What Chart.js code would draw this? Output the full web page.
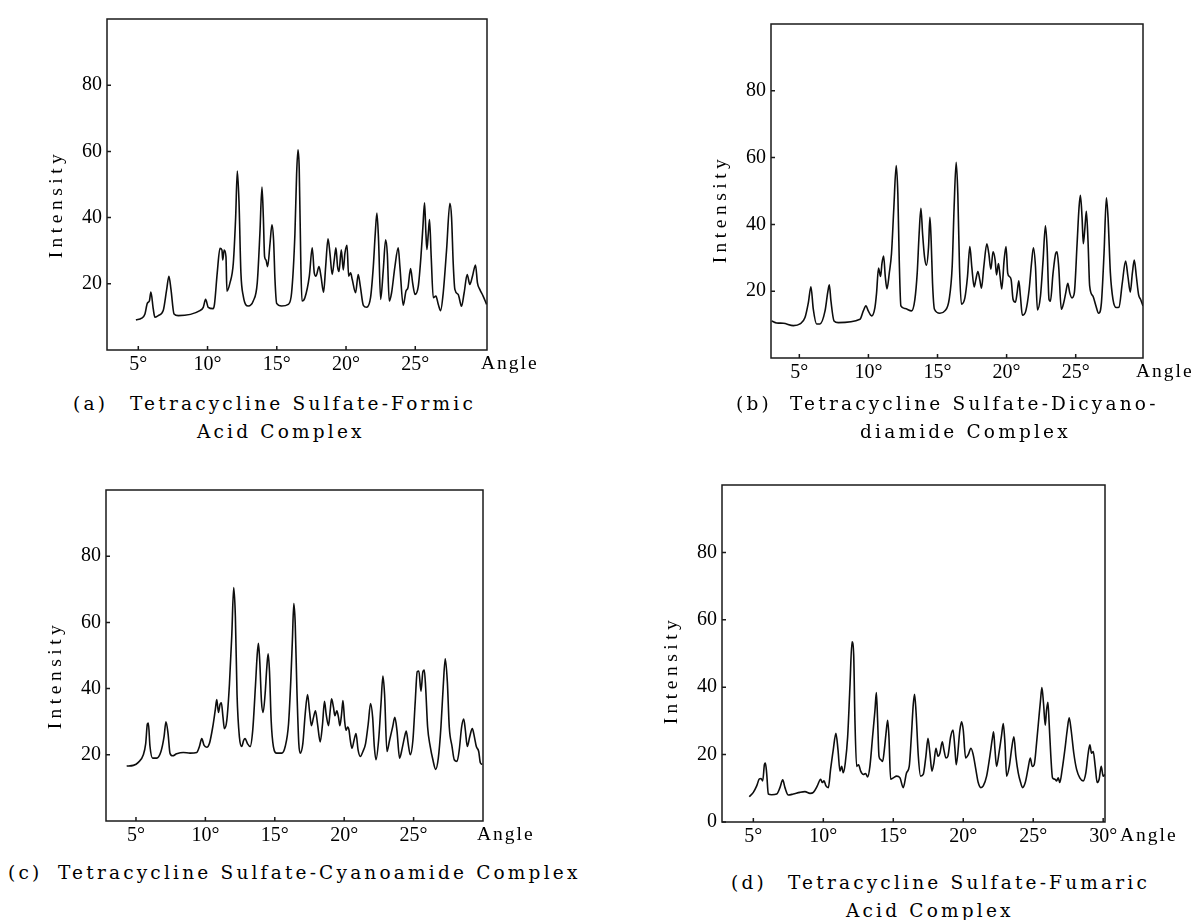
<!DOCTYPE html>
<html>
<head>
<meta charset="utf-8">
<script src="https://cdn.jsdelivr.net/npm/chart.js@4.4.1/dist/chart.umd.min.js"></script>
<style>
    html, body { margin: 0; padding: 0; background: #fff; width: 1195px; height: 920px; overflow: hidden; }
    canvas { position: absolute; }
    .cap { position: absolute; font-family: 'DejaVu Serif', serif; font-size: 18.5px; letter-spacing: 3.2px;
           line-height: 20px; color: #000; white-space: nowrap; }
</style>
</head>
<body>
<canvas id="chartA"></canvas>
<canvas id="chartB"></canvas>
<canvas id="chartC"></canvas>
<canvas id="chartD"></canvas>

<div class="cap" style="left:73px;top:394px">(a)</div>
<div class="cap" style="left:130px;top:394px">Tetracycline Sulfate-Formic</div>
<div class="cap" style="left:197px;top:422px">Acid Complex</div>

<div class="cap" style="left:736px;top:394px">(b)</div>
<div class="cap" style="left:790px;top:394px">Tetracycline Sulfate-Dicyano-</div>
<div class="cap" style="left:860px;top:422px">diamide Complex</div>

<div class="cap" style="left:8px;top:863px">(c)</div>
<div class="cap" style="left:58px;top:863px">Tetracycline Sulfate-Cyanoamide Complex</div>

<div class="cap" style="left:731px;top:873px">(d)</div>
<div class="cap" style="left:788px;top:873px">Tetracycline Sulfate-Fumaric</div>
<div class="cap" style="left:846px;top:901px">Acid Complex</div>

<script>
// datos (angulo 2θ en grados, intensidad)
const anglesA = [
    4.83, 5.24, 5.48, 5.65, 5.8, 5.91, 6.08, 6.2, 6.44, 6.8,
    7.05, 7.21, 7.36, 7.58, 7.89, 9.45, 9.69, 9.86, 10.05, 10.4,
    10.5, 10.7, 10.9, 11.04, 11.1, 11.2, 11.33, 11.4, 11.62, 11.86,
    12.03, 12.15, 12.27, 12.41, 12.58, 12.94, 13.3, 13.59, 13.78, 13.93,
    14.03, 14.12, 14.22, 14.34, 14.51, 14.65, 14.77, 14.87, 14.99, 15.35,
    15.83, 16.07, 16.31, 16.43, 16.53, 16.62, 16.74, 16.82, 17.03, 17.35,
    17.56, 17.71, 17.83, 18.05, 18.19, 18.38, 18.53, 18.7, 18.84, 19.0,
    19.15, 19.27, 19.39, 19.49, 19.66, 19.8, 19.92, 20.07, 20.19, 20.33,
    20.45, 20.69, 20.88, 21.03, 21.25, 21.49, 21.77, 21.97, 22.11, 22.23,
    22.35, 22.5, 22.69, 22.86, 22.98, 23.12, 23.29, 23.53, 23.77, 23.89,
    24.13, 24.33, 24.47, 24.66, 24.81, 24.98, 25.22, 25.41, 25.55, 25.67,
    25.77, 25.84, 25.94, 26.03, 26.15, 26.3, 26.49, 26.66, 26.83, 27.02,
    27.26, 27.5, 27.62, 27.74, 27.86, 28.1, 28.34, 28.53, 28.75, 28.94,
    29.13, 29.35, 29.49, 29.66, 29.9, 30.15
];
const intensityA = [
    9.1, 9.6, 10.9, 14.1, 14.8, 17.5, 12.4, 9.9, 10.4, 11.9,
    18.3, 22.3, 18.3, 10.9, 10.4, 11.9, 12.9, 15.3, 12.9, 12.5,
    13.8, 23.3, 30.7, 30.2, 27.2, 30.2, 28.2, 17.8, 20.3, 26.2,
    40.1, 54.1, 45, 23.3, 16.3, 13.3, 14.8, 20.3, 35.1, 49.2,
    40.1, 28.2, 27.2, 25.2, 32.1, 37.8, 33.1, 21.3, 14.1, 13.3,
    13.8, 17.3, 35.1, 52.9, 60.5, 54.9, 25.2, 14.8, 15.8, 22.3,
    30.9, 23.2, 22.3, 25.2, 22.3, 17.5, 25.2, 33.6, 29.2, 22.8,
    27.2, 30.9, 25.2, 23.7, 30.3, 24.2, 29.2, 31.6, 22.3, 23.3,
    21.3, 17.3, 22.8, 19.3, 13.5, 12.9, 15.8, 25.2, 35.1, 41.4,
    33.1, 15.3, 24.2, 33.3, 29.2, 14.8, 17.3, 25.2, 30.9, 25.2,
    13.5, 17.8, 18.8, 24.6, 20.3, 16.8, 19.3, 28.2, 37.1, 44.5,
    35.1, 30.4, 35.1, 39.4, 28.2, 15.8, 16.3, 13.8, 11.9, 17.3,
    30.2, 44.3, 40.1, 26.2, 18.3, 16.8, 13.2, 17.3, 22.8, 19.8,
    22.3, 25.7, 20.3, 18.3, 16.3, 13.8
];

const anglesB = [
    3.0, 3.36, 3.84, 4.57, 5.05, 5.41, 5.65, 5.84, 6.01, 6.25,
    6.49, 6.86, 7.05, 7.17, 7.29, 7.51, 7.82, 9.39, 9.63, 9.82,
    9.99, 10.23, 10.47, 10.59, 10.73, 10.88, 10.98, 11.1, 11.22, 11.34,
    11.51, 11.67, 11.84, 12.01, 12.13, 12.23, 12.35, 12.64, 13.12, 13.36,
    13.53, 13.67, 13.8, 13.92, 14.06, 14.2, 14.35, 14.45, 14.54, 14.64,
    14.78, 15.17, 15.53, 15.84, 16.06, 16.2, 16.35, 16.47, 16.59, 16.73,
    16.98, 17.17, 17.34, 17.48, 17.65, 17.77, 17.92, 18.06, 18.18, 18.35,
    18.57, 18.71, 18.86, 19.02, 19.17, 19.27, 19.41, 19.53, 19.65, 19.82,
    19.96, 20.08, 20.2, 20.33, 20.47, 20.64, 20.76, 20.88, 21.0, 21.14,
    21.39, 21.63, 21.8, 21.94, 22.09, 22.23, 22.45, 22.64, 22.81, 22.93,
    23.07, 23.17, 23.36, 23.55, 23.65, 23.77, 23.96, 24.13, 24.28, 24.43,
    24.57, 24.73, 24.9, 25.1, 25.24, 25.34, 25.46, 25.55, 25.67, 25.77,
    25.89, 26.01, 26.25, 26.45, 26.66, 26.86, 27.05, 27.22, 27.34, 27.51,
    27.7, 27.94, 28.13, 28.37, 28.61, 28.78, 28.95, 29.1, 29.24, 29.39,
    29.55, 29.7, 29.87
];
const intensityB = [
    11.1, 10.5, 10.4, 9.7, 10.2, 12.1, 16.5, 21.3, 14.6, 10.2,
    10.2, 14.1, 19.5, 21.9, 17.0, 11.1, 10.6, 11.6, 14.1, 15.6,
    14.1, 12.6, 15.1, 19.5, 26.9, 24.4, 28.3, 30.5, 24.4, 20.7,
    25.4, 31.3, 45.0, 57.6, 49.0, 29.3, 15.6, 14.8, 14.1, 17.5,
    25.4, 37.2, 44.8, 37.2, 30.3, 27.8, 33.2, 42.1, 35.2, 22.4,
    14.6, 13.4, 14.1, 17.5, 27.3, 45.0, 58.6, 49.0, 27.3, 16.1,
    18.0, 24.4, 33.4, 27.3, 21.3, 23.4, 25.9, 23.4, 20.9, 27.3,
    34.2, 31.3, 26.6, 31.8, 29.3, 24.9, 28.3, 24.4, 20.7, 29.3,
    33.4, 25.4, 24.4, 23.4, 17.5, 16.7, 19.5, 23.1, 18.5, 12.8,
    14.1, 20.5, 28.3, 33.0, 27.3, 14.4, 18.5, 29.3, 39.6, 33.2,
    17.5, 17.0, 25.4, 31.3, 31.8, 27.3, 14.6, 16.5, 19.5, 22.4,
    19.5, 18.0, 19.5, 34.2, 45.0, 48.7, 42.1, 34.2, 39.2, 43.9,
    35.2, 21.6, 18.5, 15.8, 13.4, 16.5, 31.3, 48.0, 42.1, 25.4,
    17.5, 15.1, 15.2, 22.4, 29.0, 24.4, 19.7, 25.4, 29.3, 24.4,
    19.0, 17.5, 15.6
];

const anglesC = [
    4.33, 4.81, 5.17, 5.53, 5.7, 5.82, 5.89, 6.01, 6.2, 6.49,
    6.8, 7.02, 7.16, 7.31, 7.45, 7.64, 7.93, 8.41, 8.89, 9.38,
    9.57, 9.74, 9.9, 10.1, 10.29, 10.53, 10.72, 10.82, 10.94, 11.06,
    11.15, 11.27, 11.37, 11.54, 11.73, 11.9, 12.04, 12.16, 12.28, 12.45,
    12.62, 12.76, 12.86, 13.03, 13.22, 13.41, 13.61, 13.73, 13.82, 13.92,
    14.04, 14.16, 14.3, 14.42, 14.52, 14.62, 14.74, 14.9, 15.14, 15.5,
    15.75, 15.99, 16.15, 16.27, 16.37, 16.47, 16.59, 16.73, 16.83, 17.02,
    17.19, 17.36, 17.5, 17.64, 17.79, 17.93, 18.08, 18.27, 18.44, 18.58,
    18.7, 18.87, 18.99, 19.09, 19.23, 19.33, 19.47, 19.59, 19.69, 19.81,
    19.91, 20.03, 20.13, 20.25, 20.35, 20.44, 20.56, 20.71, 20.85, 21.0,
    21.16, 21.35, 21.54, 21.73, 21.9, 22.05, 22.17, 22.29, 22.48, 22.65,
    22.79, 22.91, 23.08, 23.27, 23.49, 23.65, 23.8, 23.99, 24.18, 24.35,
    24.47, 24.61, 24.76, 24.95, 25.12, 25.26, 25.38, 25.53, 25.67, 25.77,
    25.87, 26.01, 26.2, 26.39, 26.59, 26.78, 26.97, 27.14, 27.28, 27.43,
    27.57, 27.77, 27.93, 28.13, 28.29, 28.46, 28.61, 28.73, 28.87, 29.04,
    29.23, 29.38, 29.52, 29.69, 29.81, 29.95
];
const intensityC = [
    16.6, 16.8, 17.7, 20.0, 23.4, 29.3, 29.6, 22.5, 19.0, 19.0,
    21.0, 25.4, 30.0, 26.4, 20.5, 19.7, 20.3, 20.7, 20.5, 20.7,
    22.5, 24.9, 22.9, 22.3, 23.4, 28.4, 33.8, 36.7, 32.8, 35.3,
    35.7, 31.3, 27.9, 30.3, 41.1, 55.9, 70.5, 61.8, 38.2, 25.4,
    22.5, 24.4, 24.9, 23.4, 22.5, 27.4, 41.1, 50.0, 53.7, 48.0,
    36.2, 32.8, 38.2, 46.1, 50.5, 45.1, 30.3, 22.5, 20.5, 20.5,
    22.5, 29.3, 42.1, 54.9, 65.7, 59.8, 40.1, 23.4, 20.5, 23.4,
    32.3, 38.2, 33.3, 28.8, 31.3, 33.3, 29.3, 23.9, 29.3, 36.2,
    32.3, 28.8, 33.3, 36.9, 34.3, 31.8, 33.3, 31.3, 28.8, 32.3,
    36.4, 30.3, 27.4, 28.4, 27.4, 24.4, 22.0, 24.4, 26.4, 21.5,
    19.5, 21.0, 23.4, 29.3, 35.5, 31.3, 22.5, 18.5, 24.4, 35.3,
    43.8, 38.2, 21.0, 24.4, 28.4, 31.3, 27.4, 19.0, 22.0, 25.4,
    27.2, 23.4, 20.0, 24.4, 36.2, 45.1, 45.3, 39.2, 45.1, 45.6,
    40.2, 28.4, 22.5, 18.5, 15.6, 19.0, 28.4, 41.1, 49.0, 42.1,
    28.4, 22.5, 18.5, 18.0, 21.5, 28.4, 30.8, 27.4, 22.5, 25.4,
    27.9, 25.4, 22.5, 21.0, 17.6, 17.1
];

const anglesD = [
    4.71, 5.0, 5.24, 5.43, 5.55, 5.67, 5.79, 5.86, 5.95, 6.07,
    6.31, 6.67, 6.9, 7.1, 7.26, 7.5, 7.86, 8.33, 8.69, 9.05,
    9.29, 9.57, 9.81, 9.93, 10.05, 10.19, 10.36, 10.52, 10.71, 10.9,
    11.05, 11.19, 11.31, 11.43, 11.57, 11.74, 11.9, 12.05, 12.17, 12.26,
    12.38, 12.52, 12.67, 12.86, 13.02, 13.17, 13.33, 13.52, 13.69, 13.79,
    13.88, 13.98, 14.1, 14.24, 14.36, 14.48, 14.6, 14.69, 14.81, 15.0,
    15.24, 15.48, 15.71, 15.95, 16.14, 16.29, 16.43, 16.52, 16.62, 16.79,
    16.95, 17.14, 17.33, 17.48, 17.62, 17.76, 17.9, 18.05, 18.19, 18.33,
    18.5, 18.62, 18.76, 18.9, 19.1, 19.27, 19.4, 19.5, 19.76, 19.88,
    20.0, 20.17, 20.36, 20.55, 20.71, 20.9, 21.07, 21.26, 21.43, 21.67,
    21.9, 22.1, 22.17, 22.26, 22.38, 22.57, 22.74, 22.86, 22.98, 23.1,
    23.29, 23.48, 23.62, 23.76, 23.93, 24.1, 24.24, 24.43, 24.62, 24.79,
    24.93, 25.07, 25.24, 25.43, 25.52, 25.62, 25.74, 25.86, 25.95, 26.05,
    26.14, 26.26, 26.38, 26.55, 26.67, 26.79, 26.9, 27.07, 27.26, 27.43,
    27.57, 27.71, 27.9, 28.1, 28.33, 28.57, 28.76, 28.93, 29.05, 29.17,
    29.29, 29.43, 29.57, 29.71, 29.86, 30.0, 30.12
];
const intensityD = [
    7.5, 8.8, 10.7, 12.8, 12.9, 12.2, 17.0, 17.5, 14.6, 8.3,
    8.1, 8.3, 10.2, 12.5, 10.2, 8.0, 8.3, 8.8, 9.0, 8.5,
    8.8, 10.7, 12.7, 11.7, 12.2, 10.7, 10.2, 15.6, 21.4, 26.3,
    21.4, 15.1, 16.5, 14.6, 17.5, 25.3, 39.9, 53.5, 49.6, 30.2,
    16.5, 17.0, 15.1, 14.1, 14.4, 13.4, 16.5, 25.3, 33.1, 38.4,
    30.2, 19.5, 18.5, 18.0, 21.4, 26.3, 30.2, 25.3, 12.7, 13.1,
    13.6, 13.1, 10.2, 14.6, 16.5, 25.3, 35.0, 37.9, 33.1, 19.5,
    13.6, 14.1, 19.5, 24.8, 20.4, 15.1, 17.5, 21.9, 19.5, 20.4,
    23.8, 21.4, 19.0, 19.5, 25.3, 27.3, 22.0, 17.0, 27.3, 29.7,
    27.3, 19.0, 20.0, 21.9, 20.0, 15.6, 11.7, 10.2, 10.7, 13.6,
    19.5, 25.3, 26.8, 21.9, 16.5, 20.9, 25.8, 29.2, 23.4, 13.6,
    16.5, 22.4, 25.3, 19.5, 14.6, 11.7, 10.2, 11.7, 15.6, 19.0,
    16.5, 17.0, 23.4, 32.1, 36.0, 39.9, 35.0, 28.7, 33.1, 35.5,
    29.2, 19.5, 13.1, 12.7, 12.2, 13.1, 11.7, 15.6, 21.4, 27.3,
    30.9, 27.3, 20.4, 15.6, 13.1, 12.2, 14.6, 20.4, 22.9, 20.4,
    20.9, 16.5, 11.7, 12.7, 16.5, 13.6, 14.1
];

// marcas de los ejes
const xTicksABC = [5, 10, 15, 20, 25];
const xTicksD = [5, 10, 15, 20, 25, 30];
const yTicksABC = [20, 40, 60, 80];
const yTicksD = [0, 20, 40, 60, 80];

const AXIS_W = 80;   // ancho fijo del eje y
const AXIS_H = 40;   // alto fijo del eje x
const PAD_T = 12;
const PAD_R = 95;

// marco, marcas hacia dentro y textos "Angle" / "Intensity"
const framePlugin = {
    id: 'frame',
    afterDatasetsDraw(chart, args, opts) {
        const { ctx, chartArea: a, scales: { x, y } } = chart;
        ctx.save();
        ctx.strokeStyle = '#1a1a1a';
        ctx.lineWidth = 1.5;
        ctx.strokeRect(a.left, a.top, a.right - a.left, a.bottom - a.top);
        ctx.beginPath();
        x.ticks.forEach(t => {
            const px = x.getPixelForValue(t.value);
            ctx.moveTo(px, a.bottom);
            ctx.lineTo(px, a.bottom - 4);
        });
        y.ticks.forEach(t => {
            const py = y.getPixelForValue(t.value);
            ctx.moveTo(a.left, py);
            ctx.lineTo(a.left + 4, py);
        });
        ctx.stroke();

        ctx.fillStyle = '#000';
        ctx.font = '19.5px "Liberation Serif"';
        ctx.textBaseline = 'middle';
        ctx.letterSpacing = '2px';
        ctx.textAlign = 'left';
        ctx.fillText('Angle', a.right + opts.angleDx, a.bottom + 14);

        ctx.letterSpacing = '4.5px';
        ctx.textAlign = 'center';
        ctx.translate(a.left - 50, a.top + 185);
        ctx.rotate(-Math.PI / 2);
        ctx.fillText('Intensity', 0, 0);
        ctx.restore();
    }
};

function makeChart(id, box, angles, intensity, xMin, xMax, xTicks, yTicks, angleDx) {
    const canvas = document.getElementById(id);
    canvas.width = AXIS_W + (box.r - box.l) + PAD_R;
    canvas.height = PAD_T + (box.b - box.t) + AXIS_H;
    canvas.style.left = (box.l - AXIS_W) + 'px';
    canvas.style.top = (box.t - PAD_T) + 'px';

    const points = angles.map((v, i) => ({ x: v, y: intensity[i] }));
    const tickFont = { family: '"Liberation Serif"', size: 20 };

    return new Chart(canvas, {
        type: 'line',
        data: {
            datasets: [{
                data: points,
                borderColor: '#0d0d0d',
                borderWidth: 1.6,
                pointRadius: 0,
                cubicInterpolationMode: 'monotone',
                fill: false
            }]
        },
        options: {
            responsive: false,
            animation: false,
            events: [],
            layout: { padding: { left: 0, top: PAD_T, right: PAD_R, bottom: 0 } },
            plugins: {
                legend: { display: false },
                tooltip: { enabled: false },
                frame: { angleDx: angleDx }
            },
            scales: {
                x: {
                    type: 'linear',
                    min: xMin,
                    max: xMax,
                    grid: { display: false, drawTicks: false },
                    border: { display: false },
                    afterBuildTicks: s => { s.ticks = xTicks.map(v => ({ value: v })); },
                    afterFit: s => { s.height = AXIS_H; },
                    ticks: {
                        font: tickFont,
                        color: '#000',
                        padding: 3,
                        maxRotation: 0,
                        autoSkip: false,
                        callback: v => v + '°'
                    }
                },
                y: {
                    min: 0,
                    max: 100,
                    grid: { display: false, drawTicks: false },
                    border: { display: false },
                    afterBuildTicks: s => { s.ticks = yTicks.map(v => ({ value: v })); },
                    afterFit: s => { s.width = AXIS_W; },
                    ticks: {
                        font: tickFont,
                        color: '#000',
                        padding: 5,
                        autoSkip: false,
                        callback: v => String(v)
                    }
                }
            }
        },
        plugins: [framePlugin]
    });
}

makeChart('chartA', { l: 107, t: 14, r: 487, b: 350 }, anglesA, intensityA, 2.74, 30.18, xTicksABC, yTicksABC, -6);
makeChart('chartB', { l: 771, t: 19, r: 1143, b: 358 }, anglesB, intensityB, 2.95, 29.87, xTicksABC, yTicksABC, -7);
makeChart('chartC', { l: 106, t: 485, r: 483, b: 821 }, anglesC, intensityC, 2.84, 30.0, xTicksABC, yTicksABC, -6);
makeChart('chartD', { l: 722, t: 480, r: 1105, b: 822 }, anglesD, intensityD, 2.76, 30.13, xTicksD, yTicksD, 15);
</script>
</body>
</html>
